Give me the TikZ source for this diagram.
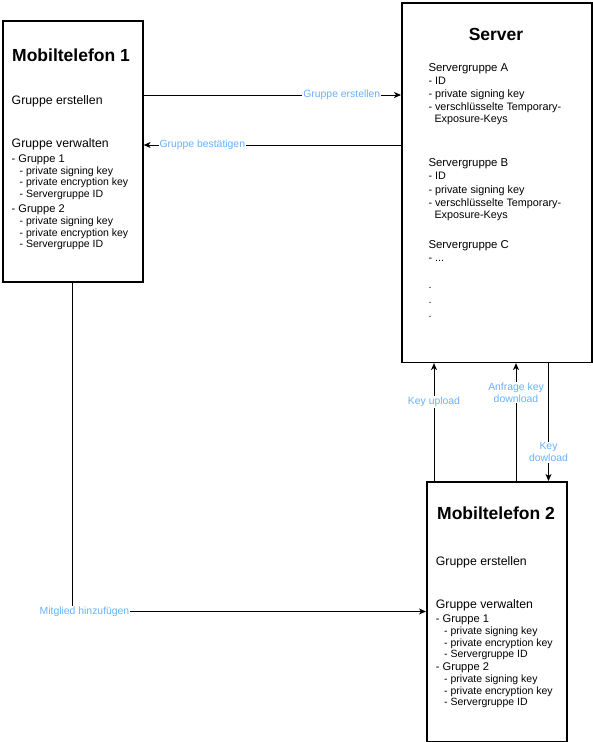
\documentclass[tikz,border=0pt]{standalone}
\usepackage{fontspec}
\setmainfont{Liberation Sans}
\usetikzlibrary{arrows.meta}
\definecolor{lblblue}{HTML}{66B2FF}
\begin{document}
\begin{tikzpicture}[x=1pt,y=-1pt,
  box/.style={draw, line width=1.6pt, inner sep=0pt, anchor=north west},
  conn/.style={line width=0.9pt, -{Stealth[length=7pt,width=6pt,inset=2pt]}},
  lbl/.style={text=lblblue, fill=white, inner sep=1pt, align=center,
    font=\fontsize{10.4}{11.7}\selectfont},
  ttl/.style={anchor=base, inner sep=0pt, font=\fontsize{17.5}{20}\selectfont\bfseries},
  hd/.style={anchor=base west, inner sep=0pt, font=\fontsize{12.3}{14}\selectfont},
  grp/.style={anchor=base west, inner sep=0pt, font=\fontsize{11.1}{13}\selectfont},
  itm/.style={anchor=base west, inner sep=0pt, font=\fontsize{10.5}{12}\selectfont},
  sh/.style={anchor=base west, inner sep=0pt, font=\fontsize{11.4}{13}\selectfont},
  si/.style={anchor=base west, inner sep=0pt, font=\fontsize{10.8}{12.5}\selectfont}]
\useasboundingbox (0,0) rectangle (592,742);

% boxes
\node[box, minimum width=140pt, minimum height=261pt] (m1) at (2,20) {};
\node[box, minimum width=190pt, minimum height=359.5pt] (srv) at (401,2) {};
\node[box, minimum width=140pt, minimum height=260pt] (m2) at (426,481) {};

% Mobiltelefon 1
\node[ttl] (m1t) at (71,61.5) {Mobiltelefon 1};
\node[hd] (m1a) at (11.5,104.3) {Gruppe erstellen};
\node[hd] (m1b) at (11.5,147.3) {Gruppe verwalten};
\node[grp] (m1g1) at (11.5,162) {- Gruppe 1};
\node[itm] (m1g1a) at (19.5,174.3) {- private signing key};
\node[itm] (m1g1b) at (19.5,185.8) {- private encryption key};
\node[itm] (m1g1c) at (19.5,197.3) {- Servergruppe ID};
\node[grp] (m1g2) at (11.5,212.5) {- Gruppe 2};
\node[itm] (m1g2a) at (19.5,224.3) {- private signing key};
\node[itm] (m1g2b) at (19.5,236) {- private encryption key};
\node[itm] (m1g2c) at (19.5,247.7) {- Servergruppe ID};

% Server
\node[ttl] (st) at (496,40.5) {Server};
\node[sh] (sa) at (428.3,71.3) {Servergruppe A};
\node[si] (sa1) at (428.3,84) {- ID};
\node[si] (sa2) at (428.3,97.3) {- private signing key};
\node[si] (sa3) at (428.3,110) {- verschlüsselte Temporary-};
\node[si] (sa4) at (434.3,122.7) {Exposure-Keys};
\node[sh] (sb) at (428.3,166.7) {Servergruppe B};
\node[si] (sb1) at (428.3,179.6) {- ID};
\node[si] (sb2) at (428.3,193.3) {- private signing key};
\node[si] (sb3) at (428.3,206) {- verschlüsselte Temporary-};
\node[si] (sb4) at (434.3,218.7) {Exposure-Keys};
\node[sh] (sc) at (428.3,248) {Servergruppe C};
\node[si] (sc1) at (428.3,261.7) {- ...};
\node[si] (sd1) at (428.3,288.3) {.};
\node[si] (sd2) at (428.3,303.3) {.};
\node[si] (sd3) at (428.3,317.7) {.};

% Mobiltelefon 2
\node[ttl] (m2t) at (496,519.3) {Mobiltelefon 2};
\node[hd] (m2a) at (435.7,565) {Gruppe erstellen};
\node[hd] (m2b) at (435.7,608.3) {Gruppe verwalten};
\node[grp] (m2g1) at (435.7,622) {- Gruppe 1};
\node[itm] (m2g1a) at (444,634.7) {- private signing key};
\node[itm] (m2g1b) at (444,646.3) {- private encryption key};
\node[itm] (m2g1c) at (444,657.9) {- Servergruppe ID};
\node[grp] (m2g2) at (435.7,670.5) {- Gruppe 2};
\node[itm] (m2g2a) at (444,682.3) {- private signing key};
\node[itm] (m2g2b) at (444,694) {- private encryption key};
\node[itm] (m2g2c) at (444,705.7) {- Servergruppe ID};

% connectors
\draw[conn] (m1.east |- 0,95) -- (srv.west |- 0,95)
  node[lbl, pos=0.77] (l1) {Gruppe erstellen};
\draw[conn] (srv.west |- 0,145) -- (m1.east |- 0,145)
  node[lbl, pos=0.772] (l2) {Gruppe bestätigen};
\draw[conn] (m2.north -| 434,0) -- (srv.south -| 434,0)
  node[lbl, pos=0.672] (l3) {Key upload};
\draw[conn] (m2.north -| 516,0) -- (srv.south -| 516,0)
  node[lbl, pos=0.749] (l4) {Anfrage key\\download};
\draw[conn] (srv.south -| 548.5,0) -- (m2.north -| 548.5,0)
  node[lbl, pos=0.756] (l5) {Key\\dowload};
\draw[conn] (m1.south) |- (m2.west |- 0,611.5)
  node[lbl] (l6) at (84.5,611.5) {Mitglied hinzufügen};
\end{tikzpicture}
\end{document}
